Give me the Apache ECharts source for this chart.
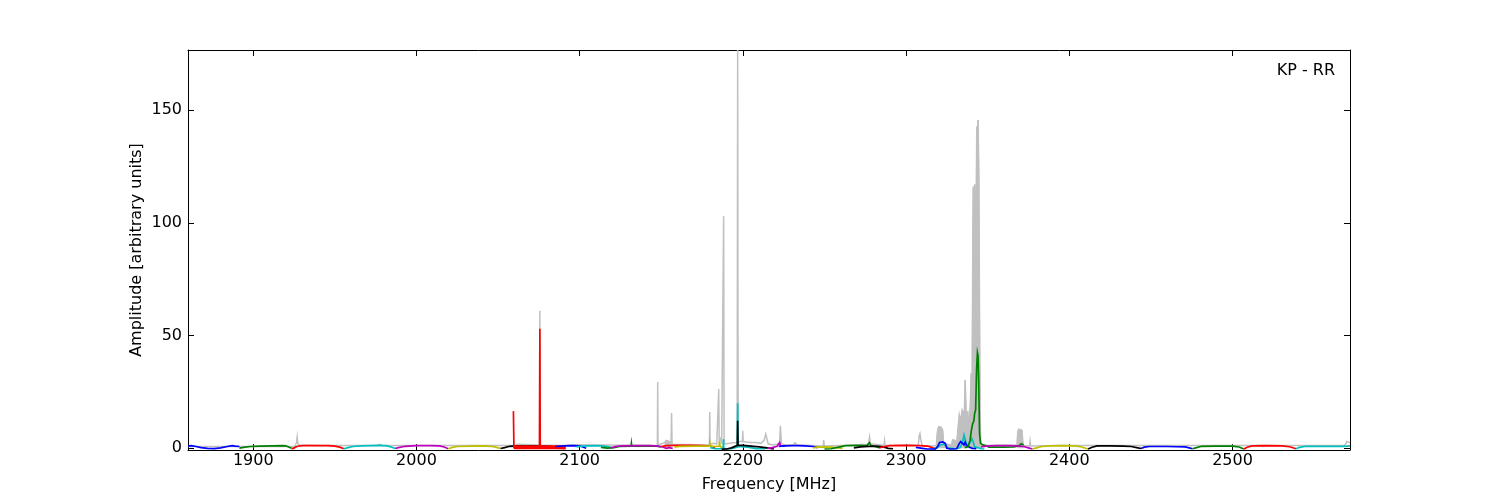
<!DOCTYPE html>
<html>
<head>
<meta charset="utf-8">
<script src="https://cdn.jsdelivr.net/npm/echarts@6/dist/echarts.min.js"></script>
<style>
  html, body { margin: 0; padding: 0; background: #ffffff; }
  #chart { width: 1500px; height: 500px; }
</style>
</head>
<body>
<div id="chart"></div>
<script>
// ---------------- DATA ----------------
const xTicks = [1900, 2000, 2100, 2200, 2300, 2400, 2500];
const yTicks = [0, 50, 100, 150];
const panelLabel = 'KP - RR';

// total spectrum (grey) [MHz, amplitude]
const graySpectrum = [
  [1860,0.8],[1925.5,0.8],[1926.5,2.5],[1926.9,4.9],[1927.2,2.5],[1927.6,3.2],[1928,1.5],[1929,1.2],
  [1941,1.2],[1942,1.6],[1943,1.3],[1976,1.3],[1977.6,1.8],[1979,1.3],
  [2060,1.2],[2062,1.8],[2063,1.2],[2075.3,1.5],[2075.6,61],[2075.9,1.5],[2090,1.3],[2095,1.6],[2096,1.2],
  [2147.6,1.2],[2147.8,29.4],[2148,1.5],[2152,2.5],[2153,3.5],[2154,4.2],[2155,3.0],[2156,2.0],[2156.3,15.7],[2156.6,1.8],
  [2179.5,1.5],[2179.7,16.1],[2179.9,1.8],[2182,2.2],[2183,3.0],[2184,2.0],[2185,1.5],[2185.2,26.3],[2185.5,3.0],
  [2186.5,4.5],[2187,2.0],[2188,1.5],[2188.2,103],[2188.5,2.0],[2190,2.0],[2192,2.2],[2194,2.5],[2196.5,2.5],
  [2196.8,176.7],[2197.1,3.0],[2198,3.0],[2199.7,3.0],[2199.9,7.8],[2200.2,3.0],[2202,2.8],[2205,2.6],[2208,2.6],
  [2211,2.2],[2213,3.5],[2214,6.3],[2214.6,6.0],[2215.5,2.0],[2218,1.5],[2222.5,2.0],[2223,10],[2223.3,10.8],
  [2223.6,2.0],[2226,1.5],[2231,1.6],[2232,2.5],[2233,1.6],[2249.2,1.0],[2249.5,3.7],[2249.9,1.0],
  [2269,1.5],[2270,2.3],[2271,1.5],[2273,1.8],[2274,2.5],[2275,1.5],[2277,2.0],[2277.6,5.0],[2278.2,2.0],
  [2286.5,1.2],[2286.8,3.2],[2287.1,1.2],[2307.5,1.5],[2308,5.5],[2308.5,6.5],[2309.2,3.0],[2310,1.2],
  [2318.5,1.0],[2319.3,8.0],[2320,9.6],[2320.8,9.0],[2321.5,9.3],[2322.4,8.0],[2323,2.0],[2328,1.5],[2328.5,3.7],
  [2330,3.5],[2331,2.0],[2332,10],[2332.6,14.8],[2333.4,12],[2334.4,17],[2335,16],[2335.6,12],[2336.2,30.3],
  [2336.8,15],[2337.8,16],[2338.5,8],[2339.4,20],[2339.9,33.2],[2340.4,15.6],[2340.9,95.5],[2341.2,116],
  [2341.5,60],[2342,117],[2342.5,117],[2342.8,90],[2343.3,142.7],[2343.6,100],[2344.1,145.6],[2344.4,130],
  [2344.6,119],[2344.8,90],[2345,60],[2345.3,20],[2345.6,3.7],[2346.5,1.2],
  [2368,1.5],[2368.4,7.0],[2369,8.5],[2370,9.0],[2371,8.0],[2371.5,3.0],[2372,1.2],[2375.7,1.0],[2376,3.0],[2376.3,1.0],
  [2395,1.3],[2396,1.8],[2397,1.3],[2400,1.3],[2401,1.8],[2402,1.2],[2568,1.2],[2569.5,2.0],[2570,3.0],[2570.5,2.5],[2572,2.5]
];
const grayFilledRanges = [[2151.5, 2156.1], [2318, 2347], [2367.8, 2372.2]];

// sub-band spectra [MHz, amplitude]
const sb01 = [[1860,1.0],[1862,1.2],[1865,0.8],[1868,0.3],[1872,0.0],[1876,-0.1],[1880,0.2],[1884,0.8],[1887,1.2],[1889,1.0],[1891.5,0.8]];
const sb02 = [[1891.5,0.1],[1894,0.4],[1898,0.8],[1904,1.0],[1912,1.1],[1918,1.2],[1920,1.1],[1922,0.5],[1923.5,0.0]];
const sb03 = [[1923.5,-0.3],[1925,0.2],[1927,0.9],[1930,1.2],[1938,1.2],[1946,1.2],[1950,1.0],[1953,0.5],[1955.5,-0.2]];
const sb04 = [[1955.5,-0.2],[1958,0.3],[1961,0.8],[1966,1.1],[1972,1.2],[1977,1.3],[1982,1.1],[1985,0.5],[1987,-0.1]];
const sb05 = [[1987,-0.1],[1989,0.3],[1993,0.9],[2000,1.2],[2008,1.2],[2014,1.1],[2017,0.6],[2019.5,-0.2]];
const sb06 = [[2019.5,-0.2],[2022,0.4],[2025,0.8],[2032,1.0],[2040,1.1],[2046,0.9],[2049,0.4],[2051.5,-0.1]];
const sb07 = [[2051.5,-0.1],[2054,0.3],[2057,0.9],[2062,1.1],[2070,1.1],[2078,1.0],[2083,0.8],[2085,0.2]];
const sb08 = [[2059.6,0.5],[2066,0.5],[2075,0.5],[2085,0.5],[2091.5,0.4]];
const sb09 = [[2059.4,16.5],[2059.7,0.5],[2075.4,0.5],[2075.6,53],[2075.8,0.5],[2091,0.5]];
const sb10 = [[2085,0.8],[2090,1.1],[2096,1.2],[2100,1.1],[2102,0.6],[2104,0.0]];
const sb11 = [[2098,0.6],[2101,1.0],[2108,1.2],[2114,1.1],[2118,0.7],[2120,0.1]];
const sb12 = [[2113,0.4],[2117,0.1],[2121,0.3],[2125,0.9],[2131.5,1.0],[2131.7,2.2],[2131.9,1.0],[2140,1.1],[2147,1.0],[2150,0.6]];
const sb13 = [[2119,0.2],[2122,0.8],[2126,1.1],[2135,1.2],[2143,1.2],[2148,1.0],[2151,0.6],[2153,0.0],[2155,0.3],[2157,0.0]];
const sb14 = [[2150,0.8],[2153,1.2],[2160,1.3],[2168,1.3],[2175,1.2],[2180,1.0],[2183,0.3]];
const sb15 = [[2158,0.5],[2162,0.9],[2170,1.0],[2177,1.0],[2179.5,1.0],[2179.7,2.2],[2179.9,1.0],[2183,0.8],[2185.5,1.0],[2185.7,3.0],[2186,0.8],[2188,0.2]];
const sb16 = [[2180,0.3],[2183,-0.2],[2187.9,-0.2],[2188.1,4.0],[2188.3,-0.2],[2193,-0.2],[2196.6,0.5],[2196.8,20],[2197,0.8],[2203,0.5],[2208,-0.1],[2213,-0.2],[2215,0.3]];
const sb17 = [[2187,-0.4],[2190,-0.3],[2193,0.2],[2196.6,1.3],[2196.8,12.2],[2197,1.4],[2200,1.3],[2205,1.0],[2210,0.6],[2215,0.2],[2219,-0.3]];
const sb18 = [[2215,0.0],[2218,0.3],[2221,0.9],[2222.5,2.5],[2223,1.0],[2226,1.0]];
const sb19 = [[2222,0.8],[2225,1.1],[2231,1.2],[2232,1.9],[2233,1.2],[2238,1.1],[2243,0.8],[2246,0.3]];
const sb20 = [[2243,0.2],[2246,0.5],[2250,0.6],[2254,0.5],[2258,0.3],[2261,0.0]];
const sb21 = [[2250,-0.3],[2254,-0.2],[2258,0.4],[2263,1.2],[2270,1.3],[2276,1.2],[2277.5,2.5],[2278.5,1.2],[2281,0.8],[2284,0.2]];
const sb22 = [[2268,0.2],[2272,0.6],[2277,0.9],[2282,1.0],[2286,0.6],[2289,0.0],[2292,-0.2]];
const sb23 = [[2284,0.3],[2287,0.8],[2290,1.2],[2300,1.3],[2308,1.2],[2313,1.0],[2316,0.3],[2318,-0.2]];
const sb24 = [[2306,0.4],[2310,0.0],[2313,-0.3],[2318,-0.3],[2319.5,1.0],[2320.5,2.6],[2322.5,2.8],[2324,2.2],[2325,0.0],[2327,-0.3],[2331,-0.2],[2332.5,2.0],[2333.5,3.0],[2334.5,2.5],[2335.5,1.5],[2336.2,2.7],[2337,1.2],[2338,2.0],[2339,0.5],[2340.5,0.0],[2343,-0.2]];
const sb25 = [[2316,-0.2],[2319,0.2],[2321,1.5],[2323.5,1.8],[2325,0.2],[2330,-0.2],[2333,0.2],[2334.5,2.5],[2335.5,5.9],[2336.5,3.0],[2337.5,1.2],[2339,2.5],[2340.2,4.4],[2341,3.0],[2342,0.6],[2344,0.3],[2346,-0.2],[2348,-0.3]];
const sb26 = [[2336,0.3],[2338,0.8],[2339.2,3.5],[2340,8.0],[2340.8,11],[2341.5,12],[2342,15.5],[2342.6,17],[2343.2,35],[2343.7,42.4],[2344.1,41],[2344.5,30],[2345,6.6],[2345.6,2.2],[2347,1.5],[2350,1.0]];
const sb27 = [[2346,0.6],[2349,1.0],[2355,1.2],[2362,1.2],[2368,1.1],[2372,0.8],[2375,0.2],[2377.5,-0.3]];
const sb28 = [[2350,0.5],[2360,0.5],[2366,0.6],[2369,1.0],[2370.5,2.0],[2371.5,2.5],[2372,1.5]];
const sb29 = [[2377.5,-0.3],[2380,0.2],[2383,0.8],[2388,1.1],[2396,1.2],[2403,1.1],[2407,0.7],[2410,0.0],[2411.5,-0.3]];
const sb30 = [[2411.5,-0.3],[2414,0.5],[2417,1.1],[2425,1.1],[2433,1.0],[2438,0.8],[2442,0.2],[2444,-0.1]];
const sb31 = [[2444,-0.1],[2446,0.5],[2449,0.8],[2455,0.8],[2459.8,0.8],[2460,1.6],[2460.2,0.8],[2466,0.7],[2471,0.6],[2473.5,0.2],[2475.5,-0.2]];
const sb32 = [[2475.5,-0.2],[2478,0.3],[2481,0.9],[2490,1.0],[2500,1.0],[2504,0.6],[2507,-0.3]];
const sb33 = [[2507,-0.3],[2509,0.5],[2512,1.1],[2520,1.2],[2530,1.1],[2535,0.7],[2539,-0.2]];
const sb34 = [[2539,-0.2],[2541,0.4],[2545,0.9],[2555,0.9],[2563,0.9],[2567.8,0.9],[2568,1.6],[2568.2,0.9],[2570,1.0],[2572,1.1]];

// ---------------- STYLE ----------------
const C = { b:'#0000ff', g:'#008000', r:'#ff0000', c:'#00bfbf', m:'#bf00bf', y:'#bfbf00', k:'#000000', gray:'#c0c0c0' };
const bands = [
  [sb01,'b'],[sb02,'g'],[sb03,'r'],[sb04,'c'],[sb05,'m'],[sb06,'y'],[sb07,'k'],
  [sb08,'r',4],[sb09,'r'],[sb10,'b'],[sb11,'c'],[sb12,'g'],[sb13,'m'],[sb14,'r'],[sb15,'y'],
  [sb16,'c'],[sb17,'k'],[sb18,'m'],[sb19,'b'],[sb20,'y'],[sb21,'g'],[sb22,'k'],[sb23,'r'],
  [sb25,'c'],[sb24,'b'],[sb26,'g'],[sb28,'g'],[sb27,'m'],[sb29,'y'],[sb30,'k'],[sb31,'b'],[sb32,'g'],[sb33,'r'],[sb34,'c']
];

const FONT = 'DejaVu Sans';
const chart = echarts.init(document.getElementById('chart'), null, { renderer: 'canvas' });

const baseLine = { type: 'line', showSymbol: false, symbol: 'none', silent: true, smooth: false, connectNulls: false };
const series = [];
grayFilledRanges.forEach(rg => {
  series.push(Object.assign({}, baseLine, {
    data: graySpectrum.filter(p => p[0] >= rg[0] && p[0] <= rg[1]),
    lineStyle: { width: 1, color: C.gray, join: 'miter' }, areaStyle: { color: C.gray, opacity: 1 }, z: 1
  }));
});
series.push(Object.assign({}, baseLine, {
  data: graySpectrum, lineStyle: { width: 1.5, color: C.gray, join: 'miter' }, z: 2
}));
bands.forEach((b, i) => {
  series.push(Object.assign({}, baseLine, {
    data: b[0], lineStyle: { width: b[2] || 1.7, color: C[b[1]], join: 'miter' }, z: 3 + i * 0.01
  }));
});

const axisLineStyle = { show: true, onZero: false, lineStyle: { color: '#000', width: 1 } };
const numFmt = v => String(v);
const option = {
  animation: false,
  backgroundColor: '#ffffff',
  title: {
    text: panelLabel, right: 165, top: 63, padding: 0,
    textStyle: { fontFamily: FONT, fontSize: 16, fontWeight: 'normal', color: '#000' }
  },
  grid: { left: 188, right: 150, top: 50, bottom: 50, containLabel: false },
  xAxis: [
    {
      type: 'value', min: 1860, max: 2572, position: 'bottom',
      axisLine: axisLineStyle,
      axisTick: { show: true, inside: true, length: 6, customValues: xTicks, lineStyle: { color: '#000' } },
      axisLabel: { customValues: xTicks, formatter: numFmt, fontFamily: FONT, fontSize: 16, color: '#000', margin: 3 },
      splitLine: { show: false },
      name: 'Frequency [MHz]', nameLocation: 'middle', nameGap: 27, nameMoveOverlap: false,
      nameTextStyle: { fontFamily: FONT, fontSize: 16, color: '#000' }
    },
    {
      type: 'value', min: 1860, max: 2572, position: 'top',
      axisLine: axisLineStyle,
      axisTick: { show: true, inside: true, length: 6, customValues: xTicks, lineStyle: { color: '#000' } },
      axisLabel: { show: false }, splitLine: { show: false }
    }
  ],
  yAxis: [
    {
      type: 'value', min: -0.75, max: 176.7, position: 'left',
      axisLine: axisLineStyle,
      axisTick: { show: true, inside: true, length: 6, customValues: yTicks, lineStyle: { color: '#000' } },
      axisLabel: { customValues: yTicks, formatter: numFmt, fontFamily: FONT, fontSize: 16, color: '#000', margin: 6 },
      splitLine: { show: false },
      name: 'Amplitude [arbitrary units]', nameLocation: 'middle', nameGap: 43, nameRotate: 90, nameMoveOverlap: false,
      nameTextStyle: { fontFamily: FONT, fontSize: 16, color: '#000' }
    },
    {
      type: 'value', min: -0.75, max: 176.7, position: 'right',
      axisLine: axisLineStyle,
      axisTick: { show: true, inside: true, length: 6, customValues: yTicks, lineStyle: { color: '#000' } },
      axisLabel: { show: false }, splitLine: { show: false }
    }
  ],
  series: series
};
chart.setOption(option);
</script>
</body>
</html>
